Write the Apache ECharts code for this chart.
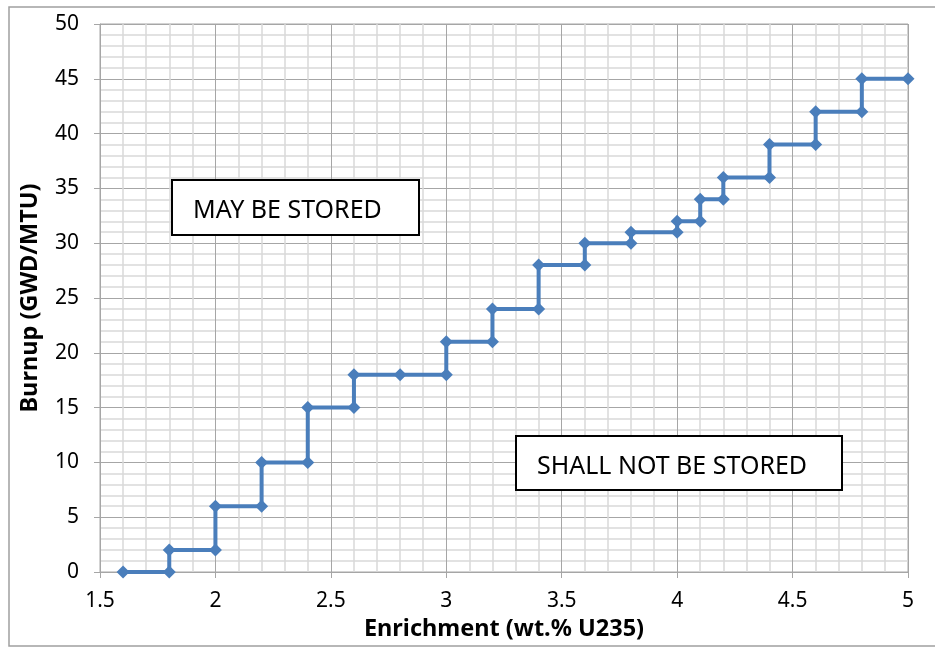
<!DOCTYPE html>
<html>
<head>
<meta charset="utf-8">
<script src="https://cdn.jsdelivr.net/npm/echarts@6/dist/echarts.min.js"></script>
<style>
html, body { margin: 0; padding: 0; background: #fff; }
#main { width: 935px; height: 647px; }
</style>
</head>
<body>
<div id="main"></div>
<script>
// enrichment (wt.% U235) and burnup (GWD/MTU) of each step point
var enrichment = [1.6, 1.8, 1.8, 2.0, 2.0, 2.2, 2.2, 2.4, 2.4, 2.6, 2.6, 2.8, 3.0, 3.0, 3.2, 3.2, 3.4, 3.4,
                  3.6, 3.6, 3.8, 3.8, 4.0, 4.0, 4.1, 4.1, 4.2, 4.2, 4.4, 4.4, 4.6, 4.6, 4.8, 4.8, 5.0];
var burnup = [0, 0, 2, 2, 6, 6, 10, 10, 15, 15, 18, 18, 18, 21, 21, 24, 24, 28,
              28, 30, 30, 31, 31, 32, 32, 34, 34, 36, 36, 39, 39, 42, 42, 45, 45];
var labelTop = 'MAY BE STORED';
var labelBottom = 'SHALL NOT BE STORED';

var font = '"Noto Sans", "Open Sans", sans-serif';
var pts = enrichment.map(function (x, i) { return [x, burnup[i]]; });

var myChart = echarts.init(document.getElementById('main'));
myChart.setOption({
    animation: false,
    backgroundColor: '#fff',
    grid: { left: 100, right: 27, top: 24, bottom: 75, show: true, borderColor: '#a6a6a6', borderWidth: 1 },
    xAxis: {
        type: 'value', min: 1.5, max: 5, interval: 0.5,
        name: 'Enrichment (wt.% U235)', nameLocation: 'middle', nameGap: 39,
        nameTextStyle: { fontFamily: font, fontWeight: 'bold', fontSize: 23.5, color: '#000' },
        axisLine: { show: true, lineStyle: { color: '#a6a6a6' } },
        axisTick: { show: true, inside: false, length: 6, lineStyle: { color: '#a6a6a6' } },
        axisLabel: { fontFamily: font, fontSize: 21, color: '#000', margin: 19,
            formatter: function (v) { return String(Math.round(v * 10) / 10); } },
        splitLine: { show: true, lineStyle: { color: '#a6a6a6', width: 1 } },
        minorTick: { show: false, splitNumber: 5 },
        minorSplitLine: { show: true, lineStyle: { color: '#d9d9d9', width: 1.5 } }
    },
    yAxis: {
        type: 'value', min: 0, max: 50, interval: 5,
        name: 'Burnup (GWD/MTU)', nameLocation: 'middle', nameGap: 58, nameRotate: 90,
        nameTextStyle: { fontFamily: font, fontWeight: 'bold', fontSize: 23.5, color: '#000' },
        axisLine: { show: true, lineStyle: { color: '#a6a6a6' } },
        axisTick: { show: true, inside: false, length: 6, lineStyle: { color: '#a6a6a6' } },
        axisLabel: { fontFamily: font, fontSize: 21, color: '#000', margin: 21 },
        splitLine: { show: true, lineStyle: { color: '#a6a6a6', width: 1 } },
        minorTick: { show: false, splitNumber: 5 },
        minorSplitLine: { show: true, lineStyle: { color: '#d9d9d9', width: 1.5 } }
    },
    series: [{
        type: 'line',
        data: pts,
        symbol: 'diamond',
        symbolSize: 13,
        lineStyle: { color: '#4a7ebb', width: 4 },
        itemStyle: { color: '#4a7ebb' }
    }],
    graphic: [
        { type: 'rect', shape: { x: 9, y: 7, width: 940, height: 639 }, silent: true,
          style: { fill: 'none', stroke: '#a0a0a0', lineWidth: 1.5 } },
        { type: 'rect', shape: { x: 172, y: 180, width: 247, height: 55 }, z: 10,
          style: { fill: '#fff', stroke: '#000', lineWidth: 2 } },
        { type: 'text', x: 193, y: 211, z: 11,
          style: { text: labelTop, fontFamily: font, fontSize: 25, fill: '#000', verticalAlign: 'middle' } },
        { type: 'rect', shape: { x: 516, y: 436, width: 326, height: 54 }, z: 10,
          style: { fill: '#fff', stroke: '#000', lineWidth: 2 } },
        { type: 'text', x: 537, y: 467, z: 11,
          style: { text: labelBottom, fontFamily: font, fontSize: 25, fill: '#000', verticalAlign: 'middle' } }
    ]
});
</script>
</body>
</html>
